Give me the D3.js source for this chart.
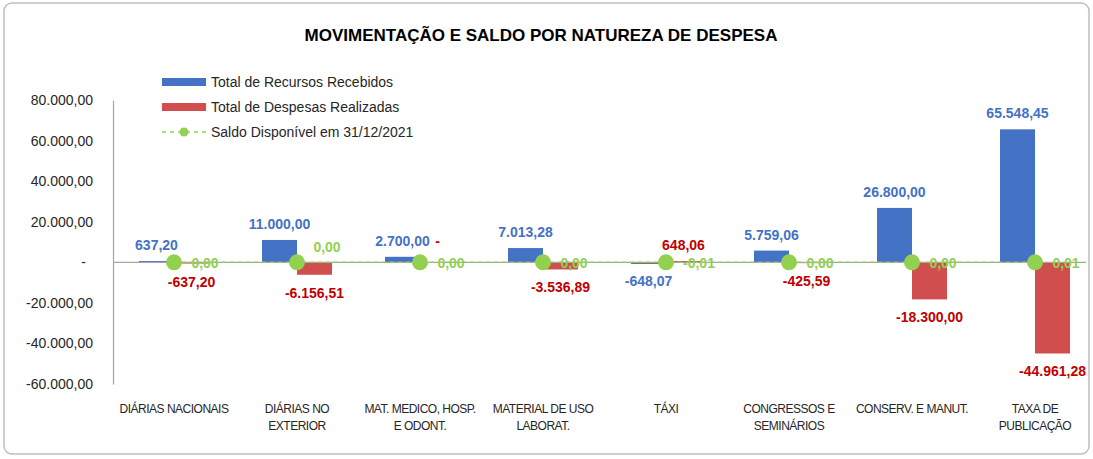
<!DOCTYPE html>
<html>
<head>
<meta charset="utf-8">
<title>Movimentação e saldo</title>
<script src="https://d3js.org/d3.v7.min.js"></script>
<style>
  body { margin: 0; background: #fff; }
  svg text { font-family: "Liberation Sans", Arial, sans-serif; }
</style>
</head>
<body>
<div id="chart"></div>
<script>
const categories = [
  ["DIÁRIAS NACIONAIS"],
  ["DIÁRIAS NO", "EXTERIOR"],
  ["MAT. MEDICO, HOSP.", "E ODONT."],
  ["MATERIAL DE USO", "LABORAT."],
  ["TÁXI"],
  ["CONGRESSOS E", "SEMINÁRIOS"],
  ["CONSERV. E MANUT."],
  ["TAXA DE", "PUBLICAÇÃO"]
];
const recebidos = [637.20, 11000.00, 2700.00, 7013.28, -648.07, 5759.06, 26800.00, 65548.45];
const despesas = [-637.20, -6156.51, 0, -3536.89, 648.06, -425.59, -18300.00, -44961.28];
const saldo = [0, 0, 0, 0, -0.01, 0, 0, 0.01];
const yTicks = [-60000, -40000, -20000, 0, 20000, 40000, 60000, 80000];
const legendItems = ["Total de Recursos Recebidos", "Total de Despesas Realizadas", "Saldo Disponível em 31/12/2021"];

const W = 1093, H = 459;
const blue = "#4472C4", red = "#D14E4E", redText = "#C00000", green = "#92D050";

const br = d3.formatLocale({decimal: ",", thousands: ".", grouping: [3], currency: ["", ""], minus: "-"});
const fmt = br.format(",.2f");
const fmtLabel = v => v === 0 ? "-" : fmt(v);

const svg = d3.select("#chart").append("svg")
  .attr("width", W).attr("height", H);

// moldura
svg.append("rect")
  .attr("x", 4).attr("y", 3).attr("width", 1085).attr("height", 451)
  .attr("rx", 8)
  .attr("fill", "#fff").attr("stroke", "#bfbfbf").attr("stroke-width", 1.5);

svg.append("text")
  .attr("x", 541).attr("y", 41)
  .attr("text-anchor", "middle")
  .style("font-size", "17px").style("font-weight", "bold").attr("fill", "#000")
  .text("MOVIMENTAÇÃO E SALDO POR NATUREZA DE DESPESA");

const idx = d3.range(categories.length);
const x = d3.scaleBand().domain(idx).range([112.5, 1096.5]);
const y = d3.scaleLinear().domain([-60000, 80000]).range([384, 100]);
const barW = 35;
const cx = i => x(i) + x.bandwidth() / 2;

// eixo y
const yAxis = svg.append("g")
  .attr("transform", "translate(113,0)")
  .call(d3.axisLeft(y).tickValues(yTicks).tickSize(0).tickPadding(20)
    .tickFormat(d => d === 0 ? "-" : fmt(d)));
yAxis.select(".domain").attr("stroke", "#a6a6a6").attr("stroke-width", 1.2);
yAxis.selectAll("text")
  .style("font-size", "14px").attr("fill", "#262626")
  .attr("dx", d => d === 0 ? -7 : 0);

// barras
svg.append("g").selectAll("rect").data(recebidos).join("rect")
  .attr("x", (d, i) => cx(i) - barW)
  .attr("y", d => y(Math.max(0, d)))
  .attr("width", barW)
  .attr("height", d => Math.abs(y(d) - y(0)))
  .attr("fill", d => d < 0 ? "#1a1a1a" : blue);

svg.append("g").selectAll("rect").data(despesas).join("rect")
  .attr("x", (d, i) => cx(i))
  .attr("y", d => y(Math.max(0, d)))
  .attr("width", barW)
  .attr("height", d => Math.abs(y(d) - y(0)))
  .attr("fill", red);

// linha do zero
svg.append("line")
  .attr("x1", 113).attr("x2", 1086)
  .attr("y1", y(0)).attr("y2", y(0))
  .attr("stroke", "#a6a6a6").attr("stroke-width", 1.2);

// saldo
const line = d3.line().x((d, i) => cx(i)).y(d => y(d));
svg.append("path").datum(saldo)
  .attr("d", line)
  .attr("fill", "none").attr("stroke", green).attr("stroke-width", 1.5)
  .attr("stroke-dasharray", "4,4").attr("opacity", 0.85);
svg.append("g").selectAll("circle").data(saldo).join("circle")
  .attr("cx", (d, i) => cx(i)).attr("cy", d => y(d))
  .attr("r", 8).attr("fill", green);

// rótulos
const lbl = svg.append("g").style("font-size", "14px").style("font-weight", "bold")
  .attr("text-anchor", "middle").attr("dominant-baseline", "central");

lbl.selectAll("text.rec").data(recebidos).join("text")
  .attr("class", "rec")
  .attr("x", (d, i) => cx(i) - barW / 2)
  .attr("y", d => d >= 0 ? y(d) - 16 : y(d) + 17)
  .attr("fill", blue)
  .text(fmtLabel);

lbl.selectAll("text.desp").data(despesas).join("text")
  .attr("class", "desp")
  .attr("x", (d, i) => cx(i) + barW / 2)
  .attr("y", d => d >= 0 ? y(d) - (d === 0 ? 21 : 16) : y(d) + 18)
  .attr("fill", redText)
  .text(fmtLabel);

lbl.selectAll("text.saldo").data(saldo).join("text")
  .attr("class", "saldo")
  .attr("x", (d, i) => cx(i) + (i === 1 ? 30 : (d < 0 ? 33 : 31)))
  .attr("y", (d, i) => y(d) + (i === 1 ? -15 : 1))
  .attr("fill", green)
  .text(d => fmt(d));

// categorias
const cat = svg.append("g").style("font-size", "12px").attr("fill", "#262626")
  .attr("text-anchor", "middle");
categories.forEach((lines, i) => {
  const t = cat.append("text").attr("x", cx(i)).attr("y", 413)
    .style("letter-spacing", "-0.5px");
  lines.forEach((s, k) => {
    t.append("tspan").attr("x", cx(i)).attr("dy", k === 0 ? 0 : 17).text(s);
  });
});

// legenda
const lg = svg.append("g").attr("transform", "translate(162,82)");
legendItems.forEach((name, i) => {
  const g = lg.append("g").attr("transform", `translate(0,${i * 25})`);
  if (i < 2) {
    g.append("rect").attr("x", 0).attr("y", -4).attr("width", 44).attr("height", 8)
      .attr("fill", i === 0 ? blue : red);
  } else {
    g.append("line").attr("x1", 0).attr("x2", 44).attr("y1", 0).attr("y2", 0)
      .attr("stroke", green).attr("stroke-width", 1.5).attr("stroke-dasharray", "4,4");
    g.append("circle").attr("cx", 22).attr("cy", 0).attr("r", 4.5).attr("fill", green);
  }
  g.append("text").attr("x", 49).attr("y", 0).attr("dominant-baseline", "central")
    .style("font-size", "14px").attr("fill", "#262626").text(name);
});
</script>
</body>
</html>
